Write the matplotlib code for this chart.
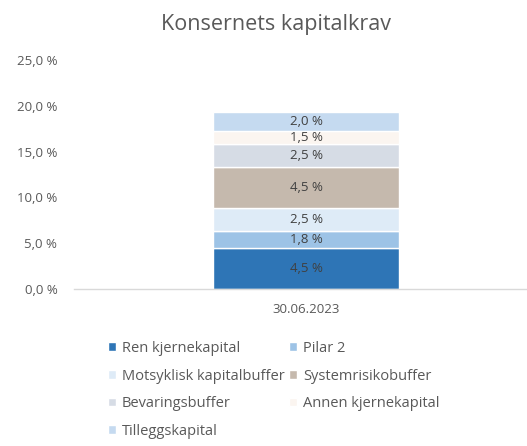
import matplotlib
matplotlib.use("Agg")
import matplotlib.pyplot as plt
import numpy as np

plt.rcParams['font.family'] = ['Open Sans', 'DejaVu Sans']

categories = ["30.06.2023"]
series_names = ["Ren kjernekapital", "Pilar 2", "Motsyklisk kapitalbuffer",
                "Systemrisikobuffer", "Bevaringsbuffer", "Annen kjernekapital",
                "Tilleggskapital"]
values = [4.5, 1.8, 2.5, 4.5, 2.5, 1.5, 2.0]
colors = ["#2E75B6", "#9DC3E6", "#DEEBF7", "#C5B9AD", "#D6DCE5", "#FBF5F0", "#C5DAF0"]
yticks = [0, 5, 10, 15, 20, 25]

fig = plt.figure(figsize=(5.27, 4.46), dpi=100)
W, H = 527, 446
ax = fig.add_axes([74 / W, 1 - 289 / H, 464 / W, 229 / H])

x = np.arange(len(categories))
bottom = np.zeros(len(categories))
handles = []
for name, v, c in zip(series_names, values, colors):
    b = ax.bar(x, [v], bottom=bottom, width=0.40, color=c, edgecolor="white",
               linewidth=1.0, label=name)
    handles.append(b)
    ax.text(x[0], bottom[0] + v / 2, f"{v:.1f} %".replace(".", ","),
            ha="center", va="center", fontsize=9.5, color="#404040")
    bottom += v

ax.set_xlim(-0.5, 0.5)
ax.set_ylim(0, 25)
ax.set_yticks(yticks)
ax.set_yticklabels([f"{t:.1f} %".replace(".", ",") for t in yticks], fontsize=9.5, color="#595959")
ax.set_xticks(x)
ax.set_xticklabels(categories, fontsize=9.5, color="#595959")
for s in ["top", "right", "left"]:
    ax.spines[s].set_visible(False)
ax.spines["bottom"].set_color("#D9D9D9")
ax.spines["bottom"].set_linewidth(1.0)
ax.tick_params(axis="y", length=0, pad=12)
ax.tick_params(axis="x", length=0, pad=10)

fig.text(276 / W, 1 - 30 / H, "Konsernets kapitalkrav", ha="center", va="baseline",
         fontsize=15.5, color="#595959")

order = [0, 2, 4, 6, 1, 3, 5]
leg = fig.legend([handles[i] for i in order], [series_names[i] for i in order],
                 ncol=2, loc="upper left", bbox_to_anchor=(108 / W, 1 - 341 / H),
                 frameon=False, fontsize=10.5, handlelength=0.55, handleheight=0.55,
                 handletextpad=0.4, columnspacing=0.3, labelspacing=0.86,
                 borderaxespad=0, borderpad=0)
for t in leg.get_texts():
    t.set_color("#595959")

fig.savefig("out.png", dpi=100)
